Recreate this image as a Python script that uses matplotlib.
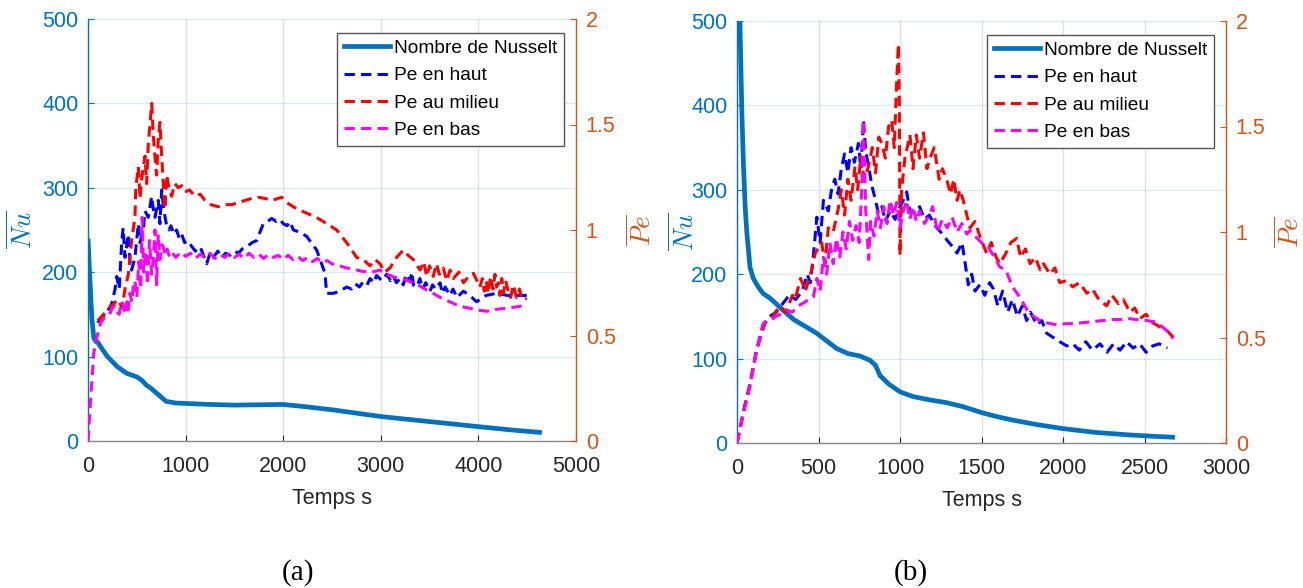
import matplotlib
matplotlib.use("Agg")
import matplotlib.pyplot as plt
from matplotlib.lines import Line2D

plt.rcParams['font.family'] = ['Liberation Sans', 'DejaVu Sans']
plt.rcParams['mathtext.fontset'] = 'cm'

NU_COL = '#0072BD'
PE_COL = '#D95319'
DARK = '#262626'

# ---------------- (a) ----------------
t_nu_a = [0, 20, 40, 60, 80, 100, 150, 200, 250, 300, 350, 400, 450, 500, 550, 600, 650, 700,
          750, 800, 900, 1000, 1200, 1500, 1800, 2000, 2200, 2500, 3000, 3500, 4000, 4300, 4650]
nu_a = [240, 190, 145, 122, 118, 117, 108, 100, 94, 88, 84, 80, 78, 76, 72, 66, 62, 57,
        52, 47, 45, 44.5, 43.5, 42.5, 43, 43.3, 41, 37, 29, 23, 17, 13.5, 10]

t_haut_a = [100, 123, 180, 243, 277, 294, 320, 345, 360, 379, 413, 430, 447, 481, 516, 533, 567, 584,
            618, 652, 669, 686, 720, 737, 755, 771, 790, 806, 830, 850, 880, 908, 935, 960, 990, 1011,
            1050, 1100, 1150, 1216, 1250, 1284, 1330, 1370, 1410, 1455, 1500, 1540, 1580, 1626, 1680,
            1728, 1796, 1840, 1882, 1930, 1967, 2000, 2040, 2070, 2104, 2170, 2240, 2343, 2428, 2445,
            2514, 2580, 2650, 2700, 2740, 2780, 2821, 2860, 2890, 2930, 2957, 3010, 3060, 3100, 3130,
            3160, 3197, 3230, 3260, 3299, 3320, 3333, 3370, 3400, 3430, 3460, 3504, 3530, 3560, 3607,
            3630, 3660, 3709, 3740, 3780, 3846, 3910, 3982, 4080, 4187, 4300, 4400, 4495]
pe_haut_a = [0.56, 0.58, 0.6, 0.65, 0.72, 0.78, 0.72, 0.94, 1.01, 0.87, 0.98, 0.85, 0.81, 0.87, 1.03,
             0.94, 1.0, 1.09, 1.06, 1.16, 1.1, 1.06, 1.14, 1.03, 1.19, 1.12, 1.06, 1.02, 1.0, 1.02,
             0.98, 1.0, 0.96, 0.98, 0.94, 0.95, 0.93, 0.9, 0.92, 0.84, 0.89, 0.87, 0.9, 0.87, 0.89,
             0.88, 0.9, 0.89, 0.91, 0.92, 0.94, 0.95, 1.03, 1.04, 1.055, 1.04, 1.05, 1.03, 1.02, 1.04,
             1.0, 0.99, 0.97, 0.905, 0.795, 0.7, 0.7, 0.71, 0.73, 0.72, 0.745, 0.73, 0.755, 0.74,
             0.77, 0.75, 0.785, 0.76, 0.79, 0.76, 0.78, 0.75, 0.77, 0.74, 0.79, 0.76, 0.8, 0.74,
             0.73, 0.77, 0.72, 0.75, 0.71, 0.74, 0.72, 0.75, 0.7, 0.73, 0.69, 0.72, 0.68, 0.71, 0.69,
             0.66, 0.69, 0.7, 0.69, 0.69, 0.69]

t_mil_a = [100, 140, 200, 260, 311, 350, 379, 413, 447, 481,
           490, 516, 533, 550, 567, 584, 601, 618, 635, 653,
           669, 686, 703, 720, 737, 755, 771, 789, 806, 830,
           857, 890, 925, 960, 994, 1040, 1096, 1150, 1199, 1260,
           1335, 1400, 1472, 1540, 1608, 1680, 1745, 1810, 1882, 1984,
           2035, 2140, 2240, 2340, 2445, 2548, 2650, 2753, 2820, 2889,
           2940, 2992, 3040, 3094, 3162, 3231, 3280, 3333, 3402, 3440,
           3470, 3500, 3538, 3570, 3600, 3640, 3675, 3710, 3743, 3800,
           3846, 3900, 3948, 4016, 4040, 4060, 4080, 4100, 4125, 4150,
           4170, 4187, 4205, 4220, 4240, 4255, 4280, 4300, 4330, 4358,
           4390, 4420, 4450, 4495]
pe_mil_a = [0.57, 0.59, 0.62, 0.65, 0.67, 0.63, 0.72, 0.79, 0.95, 1.06,
            1.2, 1.3, 1.15, 1.24, 1.3, 1.35, 1.22, 1.41, 1.5, 1.6,
            1.45, 1.35, 1.26, 1.43, 1.51, 1.35, 1.22, 1.1, 1.26, 1.2,
            1.16, 1.22, 1.2, 1.21, 1.18, 1.19, 1.16, 1.17, 1.14, 1.12,
            1.11, 1.12, 1.12, 1.13, 1.14, 1.15, 1.155, 1.15, 1.14, 1.155,
            1.13, 1.1, 1.08, 1.06, 1.03, 1.0, 0.94, 0.87, 0.86, 0.83,
            0.86, 0.84, 0.8, 0.82, 0.87, 0.905, 0.88, 0.86, 0.81, 0.85,
            0.78, 0.83, 0.78, 0.84, 0.79, 0.82, 0.76, 0.81, 0.77, 0.8,
            0.75, 0.78, 0.795, 0.73, 0.77, 0.71, 0.76, 0.7, 0.78, 0.72,
            0.79, 0.73, 0.75, 0.69, 0.77, 0.7, 0.76, 0.72, 0.68, 0.74,
            0.68, 0.72, 0.67, 0.675]

t_bas_a = [0, 30, 60, 90, 130, 175, 220, 250, 277, 300, 320, 340, 360, 380, 400, 413, 430, 450, 465,
           481, 500, 520, 540, 555, 570, 590, 610, 630, 652, 669, 686, 703, 720, 737, 760, 771, 790,
           810, 830, 850, 900, 950, 1000, 1050, 1100, 1150, 1200, 1250, 1300, 1350, 1400, 1450,
           1500, 1550, 1600, 1650, 1700, 1750, 1800, 1850, 1900, 1950, 2000, 2050, 2100, 2150, 2200,
           2250, 2300, 2350, 2400, 2450, 2500, 2580, 2650, 2717, 2800, 2900, 2992, 3050, 3094, 3150,
           3200, 3250, 3299, 3350, 3400, 3450, 3500, 3572, 3630, 3680, 3730, 3777, 3850, 3900, 4000,
           4085, 4200, 4300, 4392, 4450]
pe_bas_a = [0, 0.22, 0.42, 0.49, 0.56, 0.59, 0.6, 0.63, 0.64, 0.61, 0.6, 0.66, 0.65, 0.6, 0.66, 0.62,
            0.7, 0.66, 0.74, 0.76, 0.68, 0.85, 0.72, 1.06, 0.8, 0.9, 0.74, 0.95, 0.79, 0.87, 1.0, 0.74,
            0.98, 0.86, 0.93, 0.92, 0.88, 0.91, 0.88, 0.9, 0.87, 0.895, 0.875, 0.89, 0.865, 0.885,
            0.87, 0.89, 0.865, 0.885, 0.87, 0.89, 0.87, 0.885, 0.865, 0.89, 0.87, 0.885, 0.865,
            0.885, 0.87, 0.88, 0.86, 0.88, 0.86, 0.875, 0.855, 0.87, 0.85, 0.865, 0.845, 0.855,
            0.84, 0.83, 0.82, 0.815, 0.805, 0.8, 0.81, 0.79, 0.785, 0.775, 0.77, 0.765, 0.755, 0.745,
            0.735, 0.72, 0.71, 0.69, 0.675, 0.665, 0.655, 0.645, 0.635, 0.63, 0.62, 0.615, 0.625,
            0.63, 0.636, 0.64]

# ---------------- (b) ----------------
t_nu_b = [0, 10, 20, 30, 40, 50, 60, 80, 100, 130, 161, 200, 240, 284, 350, 420, 489, 550, 611,
          680, 755, 816, 850, 877, 930, 1000, 1080, 1184, 1280, 1388, 1500, 1600, 1695, 1850, 2002,
          2200, 2411, 2550, 2687]
nu_b = [700, 580, 480, 390, 327, 280, 250, 208, 195, 185, 177, 172, 165, 157, 146, 138, 130, 121,
        112, 106, 103, 98, 92, 80, 70, 60.6, 55, 51, 48, 43, 36, 31, 27, 21.5, 17, 12.5, 9.5, 8, 6.7]

t_haut_b = [0, 40, 80, 120, 160, 200, 240, 280, 320, 360, 400, 430, 450, 470, 490, 510, 530, 560, 580,
            600, 620, 640, 660, 680, 700, 720, 745, 760, 776, 790, 810, 827, 850, 867, 890, 910, 940,
            970, 1000, 1020, 1041, 1060, 1092, 1120, 1150, 1180, 1215, 1250, 1290, 1317, 1350, 1380,
            1400, 1419, 1440, 1460, 1490, 1520, 1550, 1573, 1600, 1630, 1660, 1690, 1720, 1750, 1777,
            1800, 1840, 1870, 1900, 1940, 1980, 2023, 2060, 2100, 2140, 2180, 2227, 2270, 2310, 2350,
            2390, 2430, 2470, 2510, 2550, 2590, 2640]
pe_haut_b = [0, 0.15, 0.28, 0.44, 0.56, 0.6, 0.62, 0.66, 0.7, 0.68, 0.72, 0.8, 0.76, 0.9, 1.07, 0.95,
             1.15, 1.1, 1.2, 1.25, 1.18, 1.3, 1.37, 1.28, 1.4, 1.33, 1.42, 1.3, 1.53, 1.38, 1.3, 1.22,
             1.15, 1.09, 1.12, 1.05, 1.1, 1.06, 1.12, 1.15, 1.19, 1.1, 1.09, 1.12, 1.06, 1.08, 1.03,
             1.0, 0.96, 0.935, 0.9, 0.95, 0.85, 0.75, 0.8, 0.72, 0.75, 0.7, 0.76, 0.73, 0.65, 0.72,
             0.62, 0.68, 0.6, 0.65, 0.58, 0.62, 0.56, 0.58, 0.52, 0.5, 0.48, 0.46, 0.47, 0.44, 0.48,
             0.44, 0.47, 0.43, 0.47, 0.44, 0.48, 0.45, 0.47, 0.43, 0.46, 0.47, 0.45]

t_mil_b = [0, 40, 80, 120, 172, 220, 260, 300, 340, 356, 390, 420, 458, 480, 519, 540, 560, 590, 621,
           640, 660, 680, 700, 724, 740, 760, 780, 806, 830, 850, 870, 888, 910, 930, 949, 965, 980,
           990, 996, 1000, 1010, 1030, 1061, 1080, 1100, 1120, 1144, 1165, 1184, 1210, 1240, 1260,
           1286, 1310, 1330, 1350, 1368, 1388, 1410, 1429, 1460, 1490, 1531, 1560, 1590, 1613, 1650,
           1680, 1716, 1740, 1770, 1798, 1830, 1860, 1880, 1920, 1950, 1980, 2023, 2060, 2100, 2146,
           2180, 2220, 2268, 2300, 2340, 2370, 2410, 2440, 2472, 2510, 2550, 2595, 2630, 2677]
pe_mil_b = [0, 0.15, 0.28, 0.44, 0.57, 0.6, 0.65, 0.62, 0.7, 0.68, 0.78, 0.72, 0.82, 0.9, 0.95, 0.85,
            1.02, 1.0, 1.11, 1.2, 1.08, 1.25, 1.15, 1.31, 1.2, 1.36, 1.25, 1.31, 1.4, 1.28, 1.45, 1.42,
            1.35, 1.5, 1.53, 1.4, 1.72, 1.89, 1.6, 0.89, 1.2, 1.35, 1.46, 1.3, 1.46, 1.35, 1.47, 1.3,
            1.35, 1.4, 1.25, 1.3, 1.25, 1.18, 1.25, 1.15, 1.2, 1.15, 1.08, 1.02, 1.05, 0.98, 0.9,
            0.95, 0.88, 0.85, 0.9, 0.95, 0.97, 0.88, 0.92, 0.85, 0.88, 0.82, 0.85, 0.8, 0.83, 0.76,
            0.77, 0.74, 0.76, 0.71, 0.73, 0.68, 0.65, 0.7, 0.66, 0.68, 0.62, 0.64, 0.59, 0.61, 0.57,
            0.55, 0.54, 0.5]

t_bas_b = [0, 40, 80, 120, 161, 200, 240, 264, 300, 340, 366, 400, 440, 468, 490, 510, 530, 550, 570,
           590, 610, 630, 650, 670, 690, 710, 730, 750, 765, 775, 790, 808, 820, 840, 860, 880, 900,
           920, 940, 960, 980, 1000, 1020, 1040, 1060, 1080, 1100, 1120, 1150, 1180, 1200, 1230, 1260,
           1290, 1320, 1350, 1380, 1410, 1429, 1460, 1500, 1540, 1580, 1613, 1650, 1690, 1736, 1780,
           1820, 1859, 1900, 1960, 2010, 2064, 2120, 2180, 2240, 2300, 2350, 2400, 2450, 2515, 2560,
           2595, 2640, 2677]
pe_bas_b = [0, 0.14, 0.27, 0.44, 0.566, 0.58, 0.6, 0.61, 0.63, 0.62, 0.645, 0.66, 0.68, 0.69, 0.78,
            0.72, 0.88, 0.8, 0.95, 0.85, 0.97, 0.88, 1.0, 0.92, 1.05, 0.96, 1.03, 0.95, 1.2, 1.53, 1.1,
            0.87, 1.05, 0.98, 1.1, 1.02, 1.12, 1.04, 1.15, 1.08, 1.14, 1.02, 1.1, 1.15, 1.06, 1.12,
            1.05, 1.1, 1.04, 1.08, 1.12, 1.0, 1.06, 1.02, 1.07, 1.0, 1.04, 0.99, 1.007, 0.98, 0.95,
            0.93, 0.88, 0.834, 0.82, 0.74, 0.69, 0.63, 0.6, 0.58, 0.57, 0.56, 0.565, 0.566, 0.57,
            0.575, 0.58, 0.585, 0.585, 0.59, 0.585, 0.58, 0.575, 0.56, 0.53, 0.495]

labels = ['Nombre de Nusselt', 'Pe en haut', 'Pe au milieu', 'Pe en bas']
pe_colors = ['#0000FF', '#FF0000', '#FF00FF']
PE_LW = 2.2
PE_DASH = (3.4, 2.0)

fig = plt.figure(figsize=(13.03, 5.88), dpi=100)


def panel(rect, t_nu, nu, pe_series, xmax, xstep, nu_lab_x, pe_lab_x):
    ax = fig.add_axes(rect)
    ax2 = ax.twinx()
    ax.set_zorder(1)
    ax2.set_zorder(2)
    ax2.patch.set_visible(False)

    ax.plot(t_nu, nu, color=NU_COL, lw=3.4, solid_capstyle='butt')
    for (tt, pp), c in zip(pe_series, pe_colors):
        ax2.plot(tt, pp, color=c, lw=PE_LW, dashes=PE_DASH)

    ax.set_xlim(0, xmax)
    ax.set_ylim(0, 500)
    ax2.set_ylim(0, 2)
    ax.set_xticks(range(0, xmax + 1, xstep))
    ax.set_yticks(range(0, 501, 100))
    ax2.set_yticks([0, 0.5, 1, 1.5, 2])
    ax2.set_yticklabels(['0', '0.5', '1', '1.5', '2'])

    ax.yaxis.grid(True, color=NU_COL, alpha=0.15, lw=0.9)
    ax.xaxis.grid(True, color=DARK, alpha=0.15, lw=0.9)
    ax.set_axisbelow(True)

    ax.spines['top'].set_visible(False)
    ax2.spines['top'].set_visible(False)
    ax.spines['right'].set_visible(False)
    ax2.spines['left'].set_visible(False)
    ax2.spines['bottom'].set_visible(False)
    ax.spines['left'].set_color(NU_COL)
    ax.spines['bottom'].set_color('#8c8c8c')
    ax2.spines['right'].set_color(PE_COL)
    for a in (ax, ax2):
        for s in a.spines.values():
            s.set_linewidth(1.0)

    ax.tick_params(axis='x', direction='in', length=4, pad=11, labelsize=15.5,
                   colors=DARK, labelcolor=DARK)
    ax.tick_params(axis='y', direction='in', length=4, pad=7, labelsize=15.5,
                   colors=NU_COL, labelcolor=NU_COL)
    ax2.tick_params(axis='y', direction='in', length=4, pad=7, labelsize=15.5,
                    colors=PE_COL, labelcolor=PE_COL)

    ax.set_xlabel('Temps s', fontsize=15.5, color=DARK, labelpad=8)
    ax.set_ylabel(r'$\overline{Nu}$', fontsize=19, color=NU_COL)
    ax.yaxis.set_label_coords(nu_lab_x, 0.5)
    ax2.set_ylabel(r'$\overline{Pe}$', fontsize=19.5, color=PE_COL)
    ax2.yaxis.set_label_coords(pe_lab_x, 0.5)

    handles = [Line2D([], [], color=NU_COL, lw=3.4)]
    handles += [Line2D([], [], color=c, lw=PE_LW, dashes=PE_DASH) for c in pe_colors]
    leg = ax2.legend(handles, labels, loc='upper right', bbox_to_anchor=(0.975, 0.967),
                     borderaxespad=0, fontsize=13.8, frameon=True, fancybox=False,
                     framealpha=1, edgecolor='#555555', handlelength=2.4,
                     handletextpad=0.2, labelspacing=0.52, borderpad=0.35)
    leg.get_frame().set_linewidth(1.0)
    return ax, ax2


panel([88 / 1303, 1 - 441 / 588, 488 / 1303, 422 / 588], t_nu_a, nu_a,
      [(t_haut_a, pe_haut_a), (t_mil_a, pe_mil_a), (t_bas_a, pe_bas_a)],
      5000, 1000, -0.105, 1.105)
panel([737 / 1303, 1 - 443 / 588, 489 / 1303, 422 / 588], t_nu_b, nu_b,
      [(t_haut_b, pe_haut_b), (t_mil_b, pe_mil_b), (t_bas_b, pe_bas_b)],
      3000, 500, -0.078, 1.100)

fig.text(298 / 1303, 1 - 573 / 588, '(a)', fontsize=21, family='Liberation Serif',
         ha='center', va='center', color='black')
fig.text(911 / 1303, 1 - 573 / 588, '(b)', fontsize=21, family='Liberation Serif',
         ha='center', va='center', color='black')

fig.savefig('out.png', dpi=100)
